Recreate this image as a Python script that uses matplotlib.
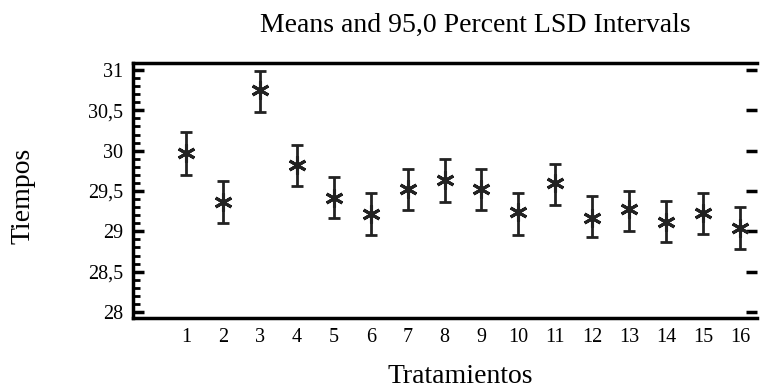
import numpy as np
import matplotlib
matplotlib.use("Agg")
import matplotlib.pyplot as plt
from matplotlib.ticker import MultipleLocator, FuncFormatter

plt.rcParams['font.family'] = ['Liberation Serif', 'DejaVu Serif']

tratamientos = list(range(1, 17))
medias = [29.97, 29.37, 30.75, 29.82, 29.41, 29.21, 29.53, 29.64,
          29.53, 29.24, 29.60, 29.17, 29.28, 29.12, 29.23, 29.04]
inferior = [29.70, 29.10, 30.48, 29.56, 29.16, 28.96, 29.27, 29.37,
            29.27, 28.96, 29.33, 28.93, 29.00, 28.87, 28.97, 28.78]
superior = [30.23, 29.63, 30.99, 30.07, 29.67, 29.47, 29.77, 29.90,
            29.77, 29.47, 29.84, 29.44, 29.50, 29.38, 29.47, 29.30]

medias = np.array(medias)
yerr = [medias - np.array(inferior), np.array(superior) - medias]

fig = plt.figure(figsize=(7.6, 3.91), dpi=100)
ax = fig.add_axes([133/760, 1 - 318/391, (757-133)/760, (318-63)/391])

ax.errorbar(tratamientos, medias, yerr=yerr, fmt='none', ecolor='#222222',
            elinewidth=2, capsize=4, capthick=2)
ax.plot(tratamientos, medias, linestyle='none', marker=(6, 2, 0),
        markersize=13, markeredgewidth=2.2, color='#222222')

ax.set_xlim(-0.436, 16.46)
ax.set_ylim(27.926, 31.087)
ax.set_xticks(tratamientos)
ax.tick_params(axis='x', length=0, labelsize=14.5, pad=7)

ax.yaxis.set_major_locator(MultipleLocator(0.5))
ax.yaxis.set_minor_locator(MultipleLocator(0.1))
ax.yaxis.set_major_formatter(FuncFormatter(
    lambda v, p: ('%g' % v).replace('.', ',')))
ax.tick_params(axis='y', which='major', direction='in', length=8, width=2.5,
               labelsize=14.5, pad=7, right=True)
ax.tick_params(axis='y', which='minor', direction='in', length=5, width=2,
               right=False)

for s in ['left', 'bottom', 'top']:
    ax.spines[s].set_linewidth(2.5)
ax.spines['right'].set_visible(False)

fig.text(475/760, 1 - 32/391, 'Means and 95,0 Percent LSD Intervals',
         ha='center', va='baseline', fontsize=20)
fig.text(23/760, 1 - 196/391, 'Tiempos', rotation=90,
         ha='center', va='center', fontsize=20)
fig.text(460/760, 1 - 383/391, 'Tratamientos',
         ha='center', va='baseline', fontsize=20)

fig.savefig('out.png', dpi=100)
